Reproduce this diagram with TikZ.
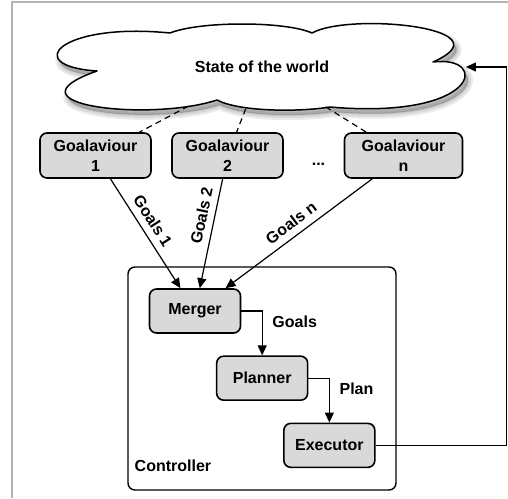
\documentclass[tikz,border=0pt]{standalone}
\usepackage{fontspec}
\setmainfont{Liberation Sans}
\usepackage{xcolor}
\usetikzlibrary{shapes,arrows.meta,positioning}
\definecolor{boxgray}{HTML}{D9D9D9}
\definecolor{framegray}{HTML}{B4B4B4}

\begin{document}
\begin{tikzpicture}[x=0.5pt, y=-0.5pt, font=\fontsize{8}{10}\selectfont\bfseries,
    puffs/.style={insert path={(97,71) .. controls (20,66) and (60,22) .. (170,33) .. controls (200,21) and (285,21) .. (312,33) .. controls (350,12) and (510,28) .. (433,62) .. controls (490,55) and (480,120) .. (330,107) .. controls (300,112) and (240,112) .. (217,100) .. controls (150,122) and (0,105) .. (97,71) -- cycle}},
    goal/.style={draw, rounded corners=3.5pt, fill=boxgray, align=center, line width=0.8pt, minimum width=55.5pt, minimum height=22.5pt},
    unit/.style={draw, rounded corners=3.5pt, fill=boxgray, line width=0.8pt, minimum width=45.5pt, minimum height=22pt},
    flow/.style={line width=0.6pt, -{Triangle[length=5pt, width=4.5pt]}},
    link/.style={line width=0.6pt, dash pattern=on 3pt off 2.2pt}]
    \useasboundingbox (0,0) rectangle (508,498);
    \draw [framegray, line width=1pt] (12,498) -- (12,2) -- (508,2);

    \foreach \w in {1,3,5}
        \filldraw [black, opacity=0.08, line width=\w pt, line join=round, shift={(3,5)}, puffs];
    \filldraw [fill=white, line width=0.75pt, line join=round, puffs];
    \node (world) [ellipse, inner sep=0pt, minimum width=203.5pt, minimum height=41.5pt] at (262,67) {State of the world};
    \node (g1) [goal] at (95.5,155.5) {Goalaviour\\1};
    \node (g2) [goal, right of=g1, node distance=66pt] {Goalaviour\\2};
    \node (gn) [goal, right of=g2, node distance=88pt, minimum width=59pt] {Goalaviour\\n};
    \node (dots) [right of=g2, node distance=45.5pt, yshift=-4.5pt] {...};
    \node (ctrl) [draw, rounded corners=3.5pt, line width=0.7pt, minimum width=134pt, minimum height=111.5pt] at (262,378.5) {};
    \node (ctrllabel) [anchor=base west, inner sep=0pt, xshift=3.5pt, yshift=9.5pt] at (ctrl.south west) {Controller};
    \node (merger) [unit] at (195,311) {Merger};
    \node (planner) [unit, below right of=merger, node distance=47.5pt] {Planner};
    \node (executor) [unit, below right of=planner, node distance=47.5pt] {Executor};

    \draw [link] (world) -- (g1);
    \draw [link] (world) -- (g2);
    \draw [link] (world) -- (gn);
    \draw [flow] (g1) -- node [above, sloped, pos=0.45] {Goals 1} (merger);
    \draw [flow] (g2) -- node [above, sloped, pos=0.36] {Goals 2} (merger);
    \draw [flow] (gn) -- node [above, sloped, pos=0.5] {Goals n} (merger);
    \draw [flow] (merger.east) -| node [right=1.5pt, pos=0.62] {Goals} (planner.north);
    \draw [flow] (planner.east) -| node [right=1.5pt, pos=0.62] {Plan} (executor.north);
    \draw [flow] (executor.east) -- ++(131,0) |- (world.east);
\end{tikzpicture}
\end{document}
